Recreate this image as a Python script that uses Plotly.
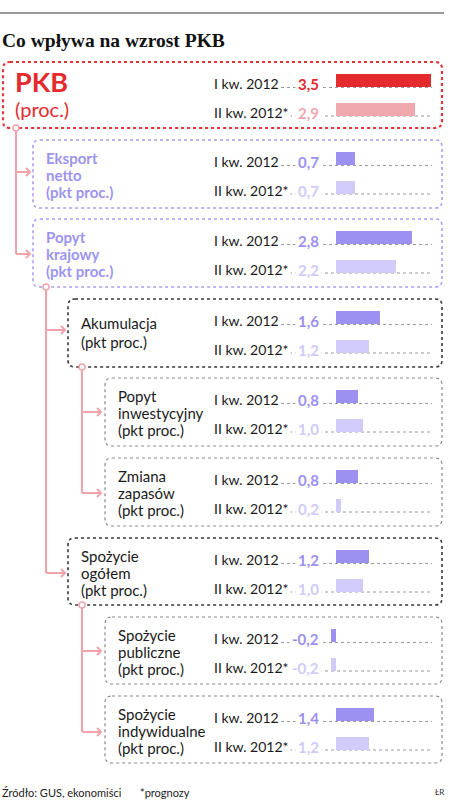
import plotly.graph_objects as go

# ---------------- data ----------------
categories = ["PKB", "Eksport netto", "Popyt krajowy", "Akumulacja",
              "Popyt inwestycyjny", "Zmiana zapasów", "Spożycie ogółem",
              "Spożycie publiczne", "Spożycie indywidualne"]
label_lines = [["PKB", "(proc.)"],
               ["Eksport", "netto", "(pkt proc.)"],
               ["Popyt", "krajowy", "(pkt proc.)"],
               ["Akumulacja", "(pkt proc.)"],
               ["Popyt", "inwestycyjny", "(pkt proc.)"],
               ["Zmiana", "zapasów", "(pkt proc.)"],
               ["Spożycie", "ogółem", "(pkt proc.)"],
               ["Spożycie", "publiczne", "(pkt proc.)"],
               ["Spożycie", "indywidualne", "(pkt proc.)"]]
q1_values = [3.5, 0.7, 2.8, 1.6, 0.8, 0.8, 1.2, -0.2, 1.4]
q2_values = [2.9, 0.7, 2.2, 1.2, 1.0, 0.2, 1.0, -0.2, 1.2]
period_labels = ["I kw. 2012", "II kw. 2012*"]
title = "Co wpływa na wzrost PKB"
source = "Źródło: GUS, ekonomiści"
note = "*prognozy"
author = "ŁR"

# ---------------- layout spec (positions / styles) ----------------
W, H = 462, 806
box_tops = [62, 140, 219, 299, 378, 458, 538, 617, 696]
box_left = [3, 33, 33, 68, 105, 105, 68, 105, 105]
box_right = 442
box_h = [66, 68, 68, 68, 68, 68, 67, 67, 67]
kind = ["main", "lvl1", "lvl1", "lvl2", "lvl3", "lvl3", "lvl2", "lvl3", "lvl3"]
border = {"main": ("#e4343a", 2.2), "lvl1": ("#a89ff2", 1.6),
          "lvl2": ("#3a3a3a", 1.6), "lvl3": ("#8a8a8a", 1.2)}
RED, PINK = "#e52a2e", "#f0a8af"
PURPLE, LPURPLE = "#9c90f1", "#d0cbf9"
CONN = "#f1a3ab"
BAR0, PXU = 336, 27.2   # pixel of zero, pixels per unit
LABEL_X, VALUE_X, DOT_END = 212, 322, 432
FONT = "Lato"

fig = go.Figure()

# bars through a value axis (x2) overlaid on the pixel axis
row1_y = [t + 21.5 for t in box_tops]
row2_y = [t + 50 for t in box_tops]
c1 = [RED if k == "main" else PURPLE for k in kind]
c2 = [PINK if k == "main" else LPURPLE for k in kind]
fig.add_trace(go.Bar(x=q1_values, y=[y - 3 for y in row1_y], orientation="h",
                     width=13, marker=dict(color=c1, line=dict(width=0)),
                     xaxis="x2", yaxis="y", hoverinfo="skip", showlegend=False))
fig.add_trace(go.Bar(x=q2_values, y=[y - 3 for y in row2_y], orientation="h",
                     width=13, marker=dict(color=c2, line=dict(width=0)),
                     xaxis="x2", yaxis="y", hoverinfo="skip", showlegend=False))


def rrect(x0, y0, x1, y1, r=7):
    return (f"M{x0+r},{y0} L{x1-r},{y0} Q{x1},{y0} {x1},{y0+r} "
            f"L{x1},{y1-r} Q{x1},{y1} {x1-r},{y1} L{x0+r},{y1} "
            f"Q{x0},{y1} {x0},{y1-r} L{x0},{y0+r} Q{x0},{y0} {x0+r},{y0} Z")


shapes = []
ann = []

# top rule
shapes.append(dict(type="line", x0=0, x1=444, y0=13, y1=13,
                   line=dict(color="#777777", width=1.5), layer="below"))

for i, cat in enumerate(categories):
    t, l, h = box_tops[i], box_left[i], box_h[i]
    col, w = border[kind[i]]
    shapes.append(dict(type="path", path=rrect(l, t, box_right, t + h),
                       line=dict(color=col, width=w, dash="dot"), layer="below"))
    # dotted leader lines
    for ry, lx in ((row1_y[i], 275), (row2_y[i], 283)):
        shapes.append(dict(type="line", x0=lx, x1=DOT_END, y0=ry + 4, y1=ry + 4,
                           line=dict(color="#8c8c8c", width=0.9, dash="dot"),
                           layer="below"))
    # period labels
    for ry, pl in ((row1_y[i], period_labels[0]), (row2_y[i], period_labels[1])):
        ann.append(dict(x=LABEL_X, y=ry, text=pl, xanchor="left", yanchor="middle",
                        font=dict(family=FONT, size=14, color="#1a1a1a"),
                        bgcolor="white", borderpad=1))
    # values
    main = kind[i] == "main"
    for ry, v, vc in ((row1_y[i], q1_values[i], RED if main else PURPLE),
                      (row2_y[i], q2_values[i], PINK if main else LPURPLE)):
        ann.append(dict(x=VALUE_X, y=ry + 0.5, text="<b>" + f"{v:.1f}".replace(".", ",") + "</b>",
                        xanchor="right", yanchor="middle",
                        font=dict(family=FONT, size=15, color=vc),
                        bgcolor="white", borderpad=2))
    # category labels
    lines = label_lines[i]
    if main:
        ann.append(dict(x=13, y=t + 19, text="<b>PKB</b>", xanchor="left", yanchor="middle",
                        font=dict(family=FONT, size=27, color=RED)))
        ann.append(dict(x=13, y=t + 47, text="(proc.)", xanchor="left", yanchor="middle",
                        font=dict(family=FONT, size=20, color=RED)))
    else:
        lx = l + 11
        if len(lines) == 2:
            ys = [t + 24, t + 43]
        else:
            ys = [t + 18, t + 35, t + 52]
        for ly, txt in zip(ys, lines):
            if kind[i] == "lvl1":
                txt_html, fc = "<b>" + txt + "</b>", "#9d94ef"
            else:
                txt_html, fc = txt, "#1a1a1a"
            ann.append(dict(x=lx, y=ly, text=txt_html, xanchor="left", yanchor="middle",
                            font=dict(family=FONT, size=15, color=fc)))

# connectors: (trunk x, start y, list of arrow y, arrow tip x)
connectors = [(16, 128, [172, 254], 30),
              (46, 287, [330, 573], 65),
              (82, 367, [412, 493], 101),
              (82, 605, [651, 732], 101)]
for tx, sy, arrows, tip in connectors:
    shapes.append(dict(type="line", x0=tx, x1=tx, y0=sy, y1=arrows[-1],
                       line=dict(color=CONN, width=2), layer="below"))
    for ay in arrows:
        shapes.append(dict(type="line", x0=tx, x1=tip, y0=ay, y1=ay,
                           line=dict(color=CONN, width=2), layer="below"))
        shapes.append(dict(type="path", path=f"M{tip-4},{ay-4} L{tip},{ay} L{tip-4},{ay+4}",
                           line=dict(color=CONN, width=2), layer="below"))
    shapes.append(dict(type="circle", x0=tx - 3, x1=tx + 3, y0=sy - 3, y1=sy + 3,
                       fillcolor="white", line=dict(color=CONN, width=1.5), layer="above"))

# title & footer
ann.append(dict(x=0, y=40, text="<b>" + title + "</b>", xanchor="left", yanchor="middle",
                font=dict(family="Liberation Serif", size=19.5, color="#111111")))
ann.append(dict(x=0, y=792, text=source, xanchor="left", yanchor="middle",
                font=dict(family=FONT, size=11, color="#222222")))
ann.append(dict(x=138, y=792, text=note, xanchor="left", yanchor="middle",
                font=dict(family=FONT, size=11, color="#222222")))
ann.append(dict(x=446, y=792, text=author, xanchor="right", yanchor="middle",
                font=dict(family=FONT, size=8, color="#333333")))

for a in ann:
    a.update(xref="x", yref="y", showarrow=False)

fig.update_layout(
    width=W, height=H, autosize=False,
    margin=dict(l=0, r=0, t=0, b=0, pad=0),
    paper_bgcolor="white", plot_bgcolor="white",
    xaxis=dict(range=[0, W], visible=False, fixedrange=True),
    xaxis2=dict(range=[(0 - BAR0) / PXU, (W - BAR0) / PXU], overlaying="x",
                visible=False, fixedrange=True),
    yaxis=dict(range=[H, 0], visible=False, fixedrange=True),
    shapes=shapes, annotations=ann, bargap=0, barmode="overlay",
)
fig.write_html("out.html")
